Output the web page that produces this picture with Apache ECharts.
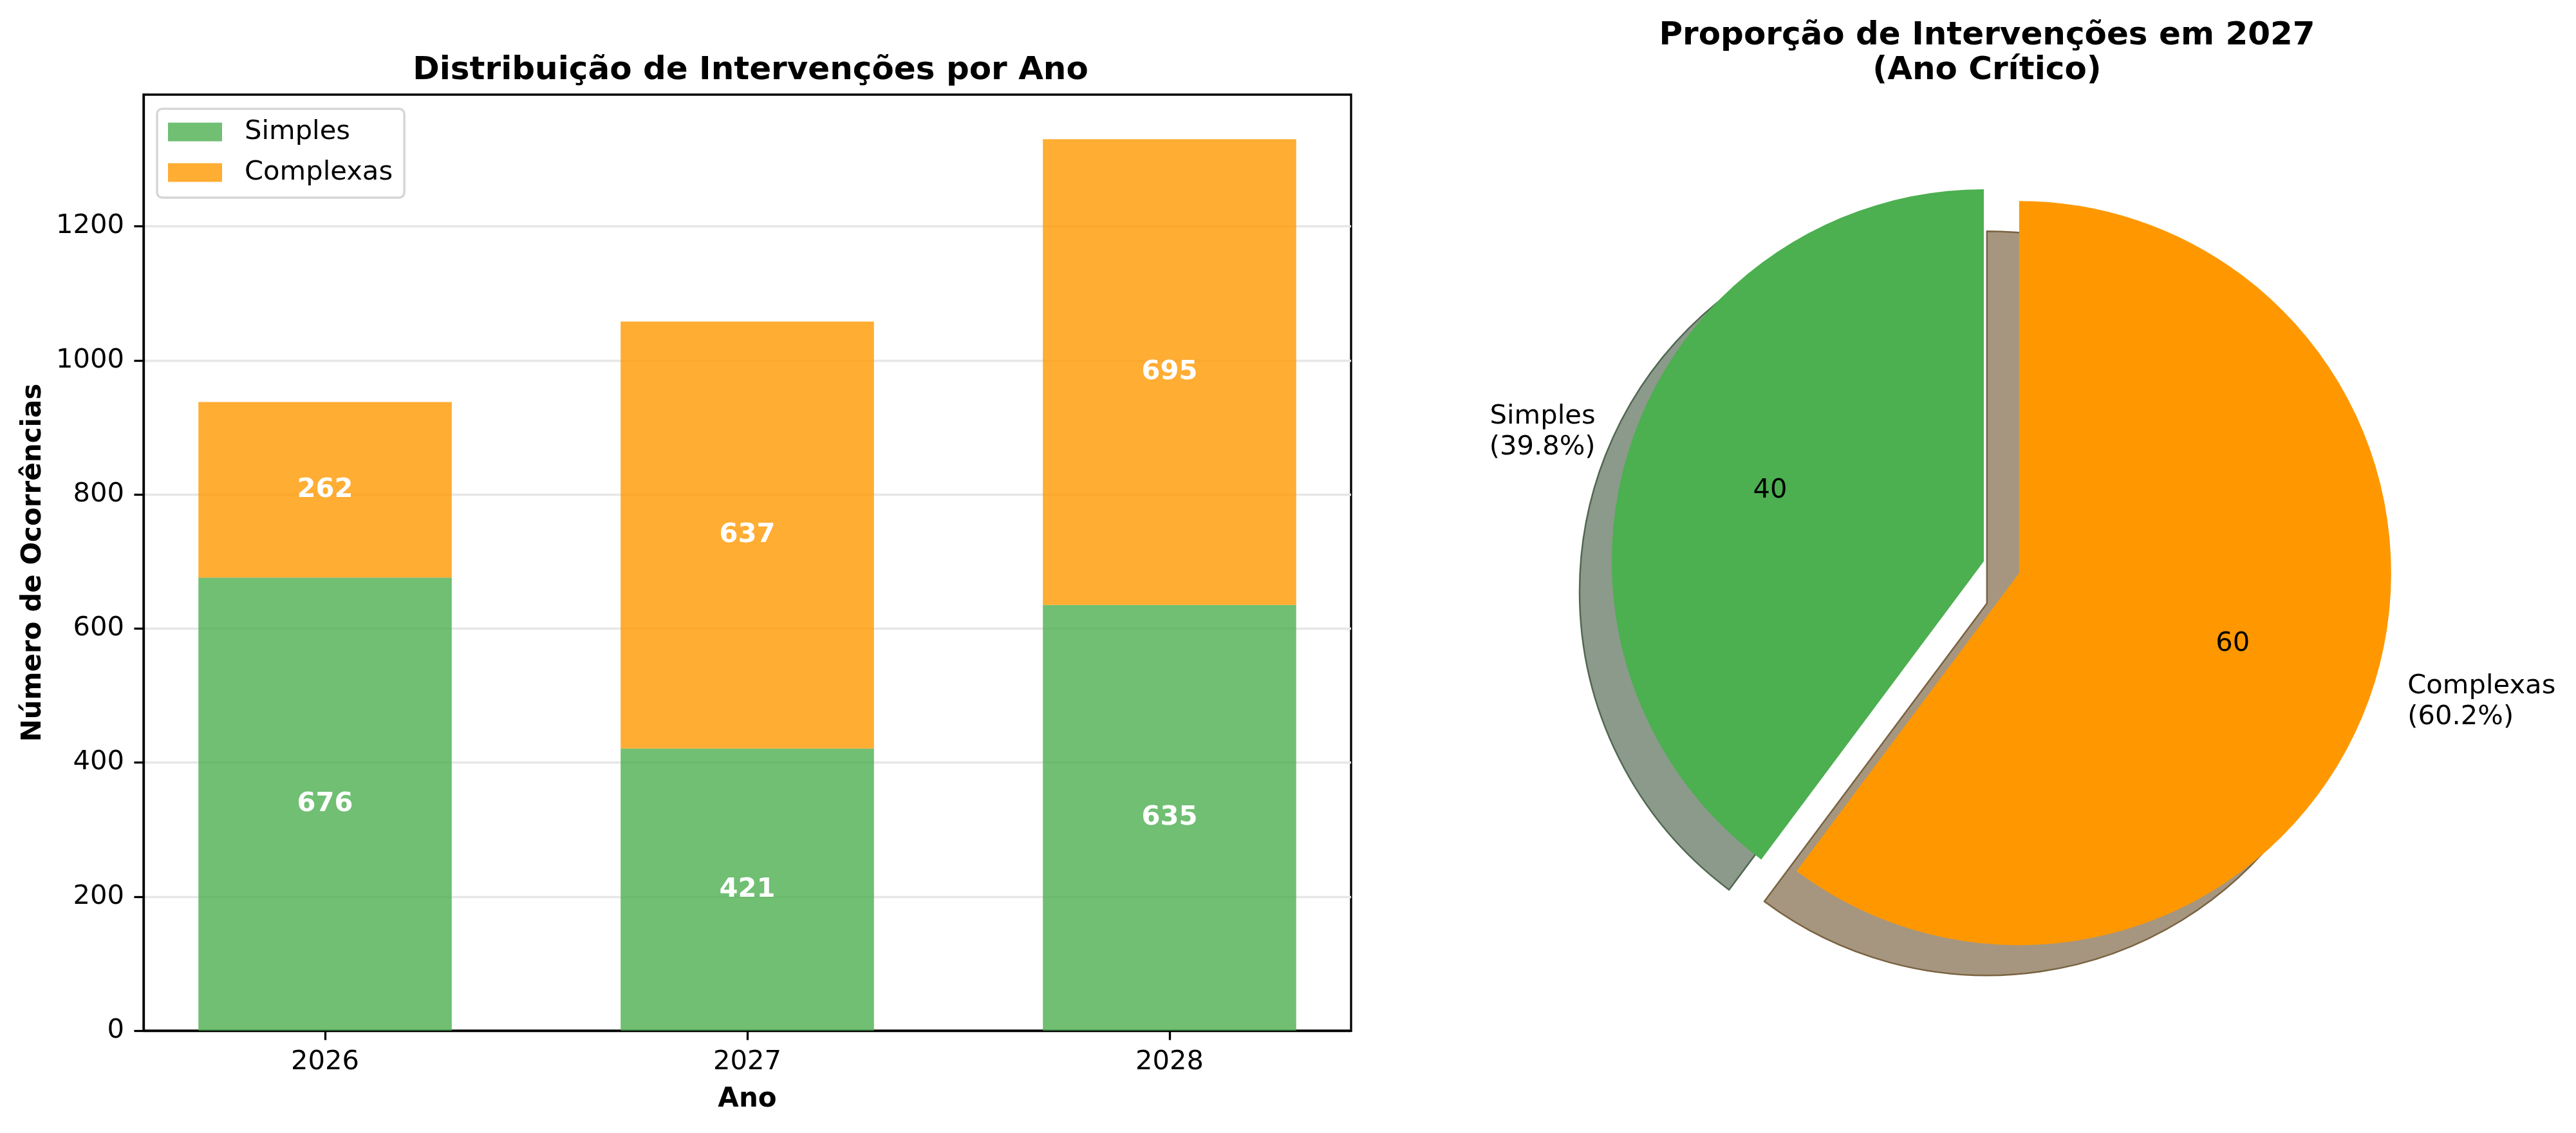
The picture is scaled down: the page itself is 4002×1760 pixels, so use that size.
<!DOCTYPE html>
<html>
<head>
<meta charset="utf-8">
<script src="https://cdn.jsdelivr.net/npm/echarts@6/dist/echarts.min.js"></script>
<style>
html, body { margin: 0; padding: 0; background: #fff; }
#chart { width: 4002px; height: 1760px; }
</style>
</head>
<body>
<div id="chart"></div>
<script>
// data
var years = ['2026', '2027', '2028'];
var simples = [676, 421, 635];
var complexas = [262, 637, 695];
var yTicks = [0, 200, 400, 600, 800, 1000, 1200];
var pieYear = '2027';
var pieNames = ['Simples', 'Complexas'];

var FONT = 'DejaVu Sans';
var GREEN = '#4CAF50', ORANGE = '#FF9800';
var GREEN_BAR = 'rgba(76,175,80,0.8)', ORANGE_BAR = 'rgba(255,152,0,0.8)';
var SHADOW_FILL = ['#8B9A8B', '#A6967F'];
var SHADOW_EDGE = ['#516752', '#796240'];

// bar panel geometry (matplotlib-like limits: bars width 0.6, 5% margins)
var grid = { left: 223, top: 147, width: 1876, height: 1454 };
var xMin = -0.43, xMax = 2.43;
var barW = grid.width / (xMax - xMin) * 0.6;
var totals = simples.map(function (v, i) { return v + complexas[i]; });
var yMax = Math.max.apply(null, totals) * 1.05;

// pie geometry
var pieC = [3082, 872], pieR = 578, explode = 0.1 * pieR;
var shadowOff = [-50, 47];

var pIdx = years.indexOf(pieYear);
var pieVals = [simples[pIdx], complexas[pIdx]];

function pieData(colors, edges) {
  return pieNames.map(function (n, i) {
    var d = { name: n, value: pieVals[i], selected: i === 1, itemStyle: { color: colors[i] } };
    if (edges) d.itemStyle.borderColor = edges[i];
    return d;
  });
}

// value first, position second, so the stack runs along y
function barData(vals) {
  return vals.map(function (v, i) { return [v, i]; });
}

var chart = echarts.init(document.getElementById('chart'), null, { renderer: 'canvas' });

var barLabel = {
  show: true, position: 'inside', color: '#fff', fontFamily: FONT, fontWeight: 'bold', fontSize: 41.7,
  formatter: function (p) { return p.value[0]; }
};

var option = {
  animation: false,
  backgroundColor: '#fff',
  textStyle: { fontFamily: FONT },
  title: [
    {
      text: 'Distribuição de Intervenções por Ano',
      left: grid.left + grid.width / 2, top: 77, textAlign: 'center',
      textStyle: { fontFamily: FONT, fontSize: 50, fontWeight: 'bold', color: '#000', lineHeight: 56 }
    },
    {
      text: 'Proporção de Intervenções em ' + pieYear + '\n(Ano Crítico)',
      left: pieC[0], top: 24, textAlign: 'center',
      textStyle: { fontFamily: FONT, fontSize: 50, fontWeight: 'bold', color: '#000', lineHeight: 54 }
    }
  ],
  legend: {
    orient: 'vertical',
    left: 244, top: 169,
    data: ['Simples', 'Complexas'],
    icon: 'rect',
    itemWidth: 84, itemHeight: 29,
    itemGap: 13,
    padding: [11, 18, 14, 17],
    backgroundColor: 'rgba(255,255,255,0.8)',
    borderColor: '#D6D6D6', borderWidth: 3.5, borderRadius: 8,
    textStyle: { fontFamily: FONT, fontSize: 41.7, color: '#000', lineHeight: 50, padding: [0, 0, 0, 30] }
  },
  grid: {
    left: grid.left, top: grid.top, width: grid.width, height: grid.height,
    show: true, borderColor: '#000', borderWidth: 3.3, backgroundColor: 'transparent'
  },
  xAxis: {
    type: 'value', min: xMin, max: xMax,
    name: 'Ano', nameLocation: 'middle', nameGap: 86,
    nameTextStyle: { fontFamily: FONT, fontSize: 42, fontWeight: 'bold', color: '#000' },
    axisLine: { show: true, onZero: false, lineStyle: { color: '#000', width: 3.3 } },
    axisTick: { show: true, length: 14.6, lineStyle: { color: '#000', width: 3.3 }, customValues: [0, 1, 2] },
    axisLabel: {
      customValues: [0, 1, 2], margin: 28,
      fontFamily: FONT, fontSize: 41.7, color: '#000',
      formatter: function (v) { return years[Math.round(v)]; }
    },
    splitLine: { show: false }
  },
  yAxis: {
    type: 'value', min: 0, max: yMax, interval: 200,
    name: 'Número de Ocorrências', nameLocation: 'middle', nameGap: 150, nameRotate: 90,
    nameTextStyle: { fontFamily: FONT, fontSize: 42, fontWeight: 'bold', color: '#000' },
    axisLine: { show: true, onZero: false, lineStyle: { color: '#000', width: 3.3 } },
    axisTick: { show: true, length: 14.6, lineStyle: { color: '#000', width: 3.3 }, customValues: yTicks },
    axisLabel: {
      customValues: yTicks, margin: 30, fontFamily: FONT, fontSize: 41.7, color: '#000',
      formatter: function (v) { return String(v); }
    },
    splitLine: { show: true, lineStyle: { color: '#E7E7E7', width: 3.3 } }
  },
  series: [
    {
      name: 'Simples', type: 'bar', stack: 'total', barWidth: barW,
      encode: { x: 1, y: 0 },
      data: barData(simples),
      itemStyle: { color: GREEN_BAR },
      label: barLabel
    },
    {
      name: 'Complexas', type: 'bar', stack: 'total', barWidth: barW,
      encode: { x: 1, y: 0 },
      data: barData(complexas),
      itemStyle: { color: ORANGE_BAR },
      label: barLabel
    },
    // shadow of the pie
    {
      type: 'pie', silent: true, z: 1,
      center: [pieC[0] + shadowOff[0], pieC[1] + shadowOff[1]], radius: pieR,
      startAngle: 90, clockwise: false,
      selectedMode: 'single', selectedOffset: explode,
      itemStyle: { borderWidth: 2.5 },
      label: { show: false }, labelLine: { show: false },
      emphasis: { disabled: true },
      data: pieData(SHADOW_FILL, SHADOW_EDGE)
    },
    // main pie with outside labels
    {
      type: 'pie', silent: true, z: 2,
      center: pieC, radius: pieR,
      startAngle: 90, clockwise: false,
      selectedMode: 'single', selectedOffset: explode,
      percentPrecision: 1,
      avoidLabelOverlap: false,
      itemStyle: { borderWidth: 0 },
      label: {
        show: true, position: 'outside', formatter: '{b}\n({d}%)',
        fontFamily: FONT, fontSize: 41.7, lineHeight: 48, color: '#000',
        distanceToLabelLine: 0
      },
      labelLine: { show: false, length: explode, length2: 0 },
      emphasis: { disabled: true },
      data: pieData([GREEN, ORANGE])
    },
    // invisible ring carrying the inner values at 0.6 r
    {
      type: 'pie', silent: true, z: 3,
      center: pieC, radius: pieR * 1.2,
      startAngle: 90, clockwise: false,
      selectedMode: 'single', selectedOffset: explode,
      itemStyle: { borderWidth: 0 },
      label: {
        show: true, position: 'inside', color: '#000', fontFamily: FONT, fontSize: 41.7,
        formatter: function (p) { return Math.round(p.percent); }
      },
      labelLine: { show: false },
      emphasis: { disabled: true },
      data: pieData(['rgba(0,0,0,0)', 'rgba(0,0,0,0)'])
    }
  ]
};

chart.setOption(option);
</script>
</body>
</html>
